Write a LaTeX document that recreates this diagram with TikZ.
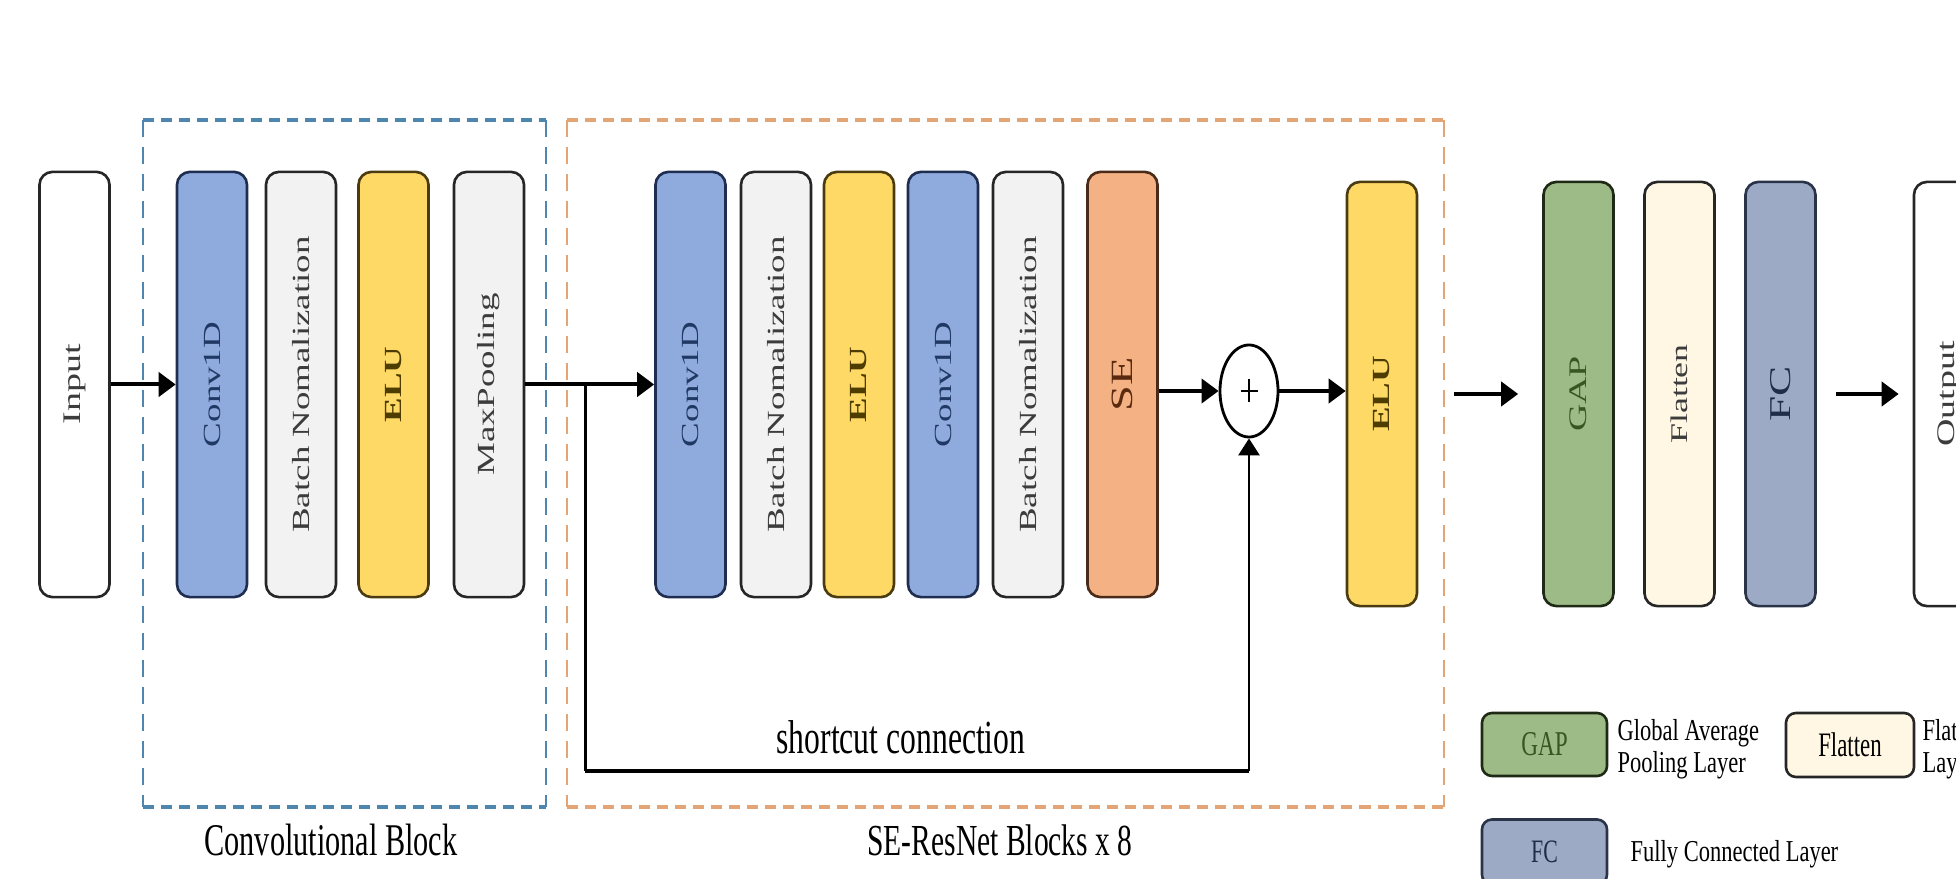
\documentclass[tikz,border=0pt]{standalone}
\usepackage{fontspec}
\setmainfont{Liberation Serif}
\usetikzlibrary{arrows.meta,shapes.geometric}

% fills
\definecolor{convfill}{HTML}{8FAADC}
\definecolor{bnfill}{HTML}{F2F2F2}
\definecolor{elufill}{HTML}{FFD966}
\definecolor{sefill}{HTML}{F4B183}
\definecolor{gapfill}{HTML}{9DBB86}
\definecolor{flatfill}{HTML}{FFF7E3}
\definecolor{fcfill}{HTML}{9DAAC5}
% outlines
\definecolor{boxline}{HTML}{262626}
\definecolor{convline}{HTML}{1F2D50}
\definecolor{eluline}{HTML}{4A3C10}
\definecolor{seline}{HTML}{4A2A18}
\definecolor{gapline}{HTML}{1E2A16}
\definecolor{fcline}{HTML}{2A3347}
% labels
\definecolor{greytxt}{HTML}{3C3C3C}
\definecolor{convtxt}{HTML}{203864}
\definecolor{elutxt}{HTML}{4D3D00}
\definecolor{setxt}{HTML}{5A2A10}
\definecolor{gaptxt}{HTML}{375623}
\definecolor{fctxt}{HTML}{1F2D4A}
% group frames
\definecolor{convframe}{HTML}{4F86B0}
\definecolor{resframe}{HTML}{E3A575}

% upright label inside a tall layer bar (set sideways, stretched along its length)
\newcommand{\LyrTxt}[3]{\rotatebox{90}{\color{#2}\fontsize{#1pt}{#1pt}\selectfont\scalebox{1.5}[1]{#3}}}
% horizontal label, stretched vertically
\newcommand{\StrTxt}[2]{{\fontsize{#1pt}{#1pt}\selectfont\scalebox{1}[1.5]{#2}}}
% legend wording, slightly less stretched
\newcommand{\LegTxt}[2]{{\fontsize{#1pt}{#1pt}\selectfont\scalebox{1}[1.35]{#2}}}

\tikzset{
  layer/.style={rectangle, rounded corners=0.13cm, line width=0.026cm,
                minimum width=0.70cm, inner sep=0pt, draw=boxline},
  tallA/.style={minimum height=4.25cm},
  tallB/.style={minimum height=4.24cm},
  legbox/.style={rectangle, rounded corners=0.10cm, line width=0.026cm,
                 inner sep=0pt, draw=boxline},
  arr/.style={line width=0.04cm, -{Triangle[length=0.17cm,width=0.24cm]}},
  thinarr/.style={line width=0.028cm, -{Triangle[length=0.17cm,width=0.21cm]}},
  frameh/.style={line width=0.034cm, dash pattern=on 0.11cm off 0.07cm},
  framev/.style={line width=0.022cm, dash pattern=on 0.17cm off 0.10cm},
  lbl/.style={inner sep=0pt, anchor=base}
}

\begin{document}
\begin{tikzpicture}[x=0.01cm, y=-0.01cm]
\useasboundingbox (0,0) rectangle (1956,879);
\clip (0,0) rectangle (1956,879);
\fill[white] (0,0) rectangle (1956,879);

% ---- group frames ----
\draw[frameh, convframe] (143,120) -- (546,120);
\draw[frameh, convframe] (143,807) -- (546,807);
\draw[framev, convframe] (143,120) -- (143,807);
\draw[framev, convframe] (546,120) -- (546,807);

\draw[frameh, resframe] (567,120) -- (1444,120);
\draw[frameh, resframe] (567,807) -- (1444,807);
\draw[framev, resframe] (567,120) -- (567,807);
\draw[framev, resframe] (1444,120) -- (1444,807);

% ---- input ----
\node[layer, tallA, fill=white] (inp) at (74.5,384.5) {\LyrTxt{7.2}{greytxt}{Input}};

% ---- convolutional block ----
\node[layer, tallA, fill=convfill, draw=convline] (c1) at (212,384.5) {\LyrTxt{7}{convtxt}{Conv1D}};
\node[layer, tallA, fill=bnfill] (bn1) at (301,384.5) {\LyrTxt{7}{greytxt}{Batch Nomalization}};
\node[layer, tallA, fill=elufill, draw=eluline] (elu1) at (393.5,384.5) {\LyrTxt{7}{elutxt}{\bfseries ELU}};
\node[layer, tallA, fill=bnfill] (mp) at (489,384.5) {\LyrTxt{7}{greytxt}{MaxPooling}};

% ---- SE-ResNet block ----
\node[layer, tallA, fill=convfill, draw=convline] (c2) at (690.5,384.5) {\LyrTxt{7}{convtxt}{Conv1D}};
\node[layer, tallA, fill=bnfill] (bn2) at (776,384.5) {\LyrTxt{7}{greytxt}{Batch Nomalization}};
\node[layer, tallA, fill=elufill, draw=eluline] (elu2) at (859,384.5) {\LyrTxt{7}{elutxt}{\bfseries ELU}};
\node[layer, tallA, fill=convfill, draw=convline] (c3) at (943,384.5) {\LyrTxt{7}{convtxt}{Conv1D}};
\node[layer, tallA, fill=bnfill] (bn3) at (1028,384.5) {\LyrTxt{7}{greytxt}{Batch Nomalization}};
\node[layer, tallA, fill=sefill, draw=seline] (se) at (1122.5,384.5) {\LyrTxt{8.8}{setxt}{SE}};

\node[ellipse, draw=black, line width=0.028cm, fill=white, minimum width=0.58cm,
      minimum height=0.92cm, inner sep=0pt] (sum) at (1249,391) {};
\draw[line width=0.02cm] (sum.center) +(-8.5,0) -- +(8.5,0)
                         (sum.center) +(0,-11.5) -- +(0,11.5);

\node[layer, tallB, fill=elufill, draw=eluline] (elu3) at (1382,394) {\LyrTxt{7}{elutxt}{\bfseries ELU}};

% ---- head ----
\node[layer, tallB, fill=gapfill, draw=gapline] (gap) at (1578.5,394) {\LyrTxt{7.2}{gaptxt}{GAP}};
\node[layer, tallB, fill=flatfill] (flat) at (1679.5,394) {\LyrTxt{6.8}{greytxt}{Flatten}};
\node[layer, tallB, fill=fcfill, draw=fcline] (fc) at (1780.5,394) {\LyrTxt{8.6}{fctxt}{FC}};
\node[layer, tallB, fill=white] (out) at (1949,394) {\LyrTxt{7.2}{greytxt}{Output}};

% ---- connectors ----
\draw[arr] (inp.east) -- (c1.west);
\draw[arr] (mp.east) -- (c2.west);
\coordinate (split) at (585,384.5);
\coordinate (low) at (585,771);
\draw[line width=0.03cm] (split) -- (low);
\draw[line width=0.04cm] (low) -- (low -| sum.south);
\draw[thinarr] (low -| sum.south) -- (sum.south);
\draw[arr] (se.east |- sum.west) -- (sum.west);
\draw[arr] (sum.east) -- (sum.east -| elu3.west);
\draw[arr, shorten <=0.36cm, shorten >=0.24cm] (elu3.east) -- (gap.west);
\draw[arr, shorten <=0.19cm, shorten >=0.14cm] (fc.east) -- (out.west);

% ---- captions ----
\node[lbl] (sclbl) at (901,753) {\StrTxt{9}{shortcut connection}};
\node[lbl] (cblbl) at (331,855) {\StrTxt{8.6}{Convolutional Block}};
\node[lbl] (srlbl) at (1000,855) {\StrTxt{8.4}{SE-ResNet Blocks x 8}};

% ---- legend ----
\node[legbox, fill=gapfill, draw=gapline, minimum width=1.25cm, minimum height=0.63cm]
  (lgap) at (1544.5,744.5) {\StrTxt{6.6}{\color{gaptxt}GAP}};
\node[lbl, anchor=base west] (lgap1) at (1617,740) {\LegTxt{6.4}{Global Average}};
\node[lbl, anchor=base west] (lgap2) at (1617,772) {\LegTxt{6.4}{Pooling Layer}};

\node[legbox, fill=flatfill, minimum width=1.28cm, minimum height=0.64cm]
  (lflat) at (1850,745) {\StrTxt{6.5}{Flatten}};
\node[lbl, anchor=base west] (lflat1) at (1922,740) {\LegTxt{6.4}{Flatten}};
\node[lbl, anchor=base west] (lflat2) at (1922,772) {\LegTxt{6.4}{Layer}};

\node[legbox, fill=fcfill, draw=fcline, minimum width=1.25cm, minimum height=0.65cm]
  (lfc) at (1544.5,852) {\StrTxt{6.2}{\color{fctxt}FC}};
\node[lbl, anchor=base west] (lfc1) at (1630,861) {\LegTxt{6.4}{Fully Connected Layer}};
\end{tikzpicture}
\end{document}
